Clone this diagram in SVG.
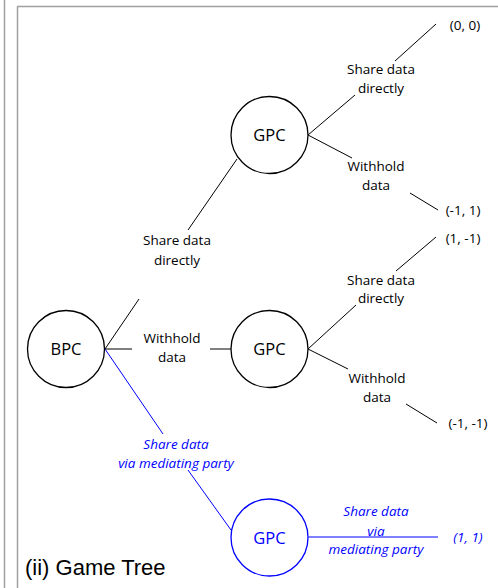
<svg xmlns="http://www.w3.org/2000/svg" width="498" height="588" viewBox="0 0 498 588">
<style>
.frame{stroke:#a0a0a0;stroke-width:1.5;fill:none}
.node{fill:#fff;stroke:#000;stroke-width:1.3}
.bnode{fill:#fff;stroke:#0000ff;stroke-width:1.3}
.e{stroke:#000;stroke-width:1;fill:none}
.be{stroke:#0000ff;stroke-width:1;fill:none}
text{font-family:"Open Sans","Liberation Sans",Arial,sans-serif;font-size:13.5px;text-anchor:middle;fill:#000}
.nl{font-size:16.5px}
.blue{fill:#0000ff}
.it{font-style:italic}
.title{font-family:"Liberation Sans",Arial,sans-serif;font-size:22px;text-anchor:start}
</style>
<g id="frame">
<line class="frame" x1="4.5" y1="0" x2="4.5" y2="588"/>
<line class="frame" x1="17.5" y1="588" x2="17.5" y2="6.5"/>
<line class="frame" x1="17" y1="6.5" x2="498" y2="6.5"/>
</g>
<g id="connectors">
<line class="e" x1="105" y1="349" x2="139" y2="299"/>
<line class="e" x1="188" y1="230" x2="237" y2="159"/>
<line class="e" x1="105" y1="349" x2="132" y2="349"/>
<line class="e" x1="210" y1="349" x2="231" y2="349"/>
<line class="be" x1="105" y1="349" x2="163" y2="434"/>
<line class="be" x1="188" y1="470" x2="231" y2="530"/>
<line class="e" x1="308" y1="135" x2="355" y2="95"/>
<line class="e" x1="395" y1="61" x2="436" y2="24"/>
<line class="e" x1="308" y1="135" x2="352" y2="158"/>
<line class="e" x1="410" y1="193" x2="438" y2="210"/>
<line class="e" x1="308" y1="349" x2="356" y2="305"/>
<line class="e" x1="396" y1="271" x2="436" y2="237"/>
<line class="e" x1="308" y1="349" x2="348" y2="369"/>
<line class="e" x1="406" y1="404" x2="437" y2="423"/>
<line class="be" x1="308.5" y1="537" x2="438" y2="537"/>
</g>
<g id="labels">
<text x="177" y="245">Share data</text>
<text x="177" y="265">directly</text>
<text x="172" y="343">Withhold</text>
<text x="172" y="362">data</text>
<text class="blue it" x="176" y="449">Share data</text>
<text class="blue it" x="176" y="468">via mediating party</text>
<text x="381" y="74">Share data</text>
<text x="381" y="93">directly</text>
<text x="376" y="171">Withhold</text>
<text x="376" y="190">data</text>
<text x="465" y="30">(0, 0)</text>
<text x="463" y="215">(-1, 1)</text>
<text x="463" y="243">(1, -1)</text>
<text x="381" y="285">Share data</text>
<text x="381" y="303">directly</text>
<text x="377" y="383">Withhold</text>
<text x="377" y="402">data</text>
<text x="468" y="428">(-1, -1)</text>
<text class="blue it" x="376" y="516">Share data</text>
<text class="blue it" x="376" y="536">via</text>
<text class="blue it" x="376" y="554">mediating party</text>
<text class="blue it" x="468" y="542">(1, 1)</text>
</g>
<g id="bpc"><circle class="node" cx="66" cy="349" r="38.5"/><text class="nl" x="66" y="355">BPC</text></g>
<g id="gpc-top"><circle class="node" cx="269.5" cy="135" r="38.5"/><text class="nl" x="269.5" y="141">GPC</text></g>
<g id="gpc-mid"><circle class="node" cx="269.5" cy="349" r="38.5"/><text class="nl" x="269.5" y="355">GPC</text></g>
<g id="gpc-blue"><circle class="bnode" cx="269.5" cy="537.5" r="38.5"/><text class="nl blue" x="269.5" y="543.5">GPC</text></g>
<text class="title" x="25" y="575">(ii) Game Tree</text>
</svg>
